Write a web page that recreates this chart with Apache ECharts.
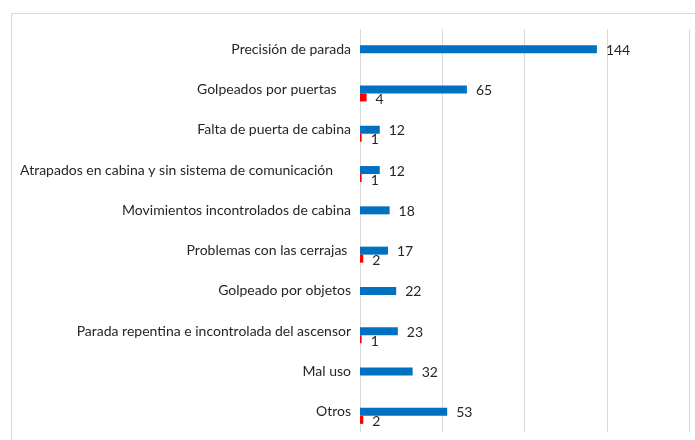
<!DOCTYPE html>
<html>
<head>
<meta charset="utf-8">
<script src="https://cdn.jsdelivr.net/npm/echarts@6/dist/echarts.min.js"></script>
<style>
  html, body { margin: 0; padding: 0; background: #fff; }
  #main { width: 695px; height: 440px; }
</style>
</head>
<body>
<div id="main"></div>
<script>
// categorias (de arriba a abajo)
var categorias = [
  "Precisión de parada",
  "Golpeados por puertas    ",
  "Falta de puerta de cabina",
  "Atrapados en cabina y sin sistema de comunicación     ",
  "Movimientos incontrolados de cabina",
  "Problemas con las cerrajas ",
  "Golpeado por objetos",
  "Parada repentina e incontrolada del ascensor",
  "Mal uso",
  "Otros"
];
var serieAzul = [144, 65, 12, 12, 18, 17, 22, 23, 32, 53];
var serieRoja = [null, 4, 1, 1, null, 2, null, 1, null, 2];
var vacio = [null, null, null, null, null, null, null, null, null, null];
var ticksX = [0, 50, 100, 150, 200];

var myChart = echarts.init(document.getElementById("main"));

var etiqueta = {
  show: true,
  position: "right",
  distance: 9,
  color: "#262626",
  fontFamily: "Lato",
  fontSize: 14
};

myChart.setOption({
  animation: false,
  textStyle: { fontFamily: "Lato" },
  graphic: [
    {
      type: "rect",
      silent: true,
      shape: { x: 11.5, y: 13.5, width: 720, height: 460 },
      style: { fill: "none", stroke: "#d9d9d9", lineWidth: 1 }
    }
  ],
  grid: { left: 360, right: 6, top: 29, bottom: 8 },
  xAxis: {
    type: "value",
    min: ticksX[0],
    max: ticksX[ticksX.length - 1],
    interval: 50,
    axisLabel: { show: false },
    axisLine: { show: false },
    axisTick: { show: false },
    splitLine: { lineStyle: { color: "#d9d9d9", width: 1 } }
  },
  yAxis: {
    type: "category",
    inverse: true,
    data: categorias,
    axisLine: { show: false },
    axisTick: { show: false },
    axisLabel: { color: "#262626", fontFamily: "Lato", fontSize: 14, margin: 9, padding: [2, 0, 0, 0] }
  },
  series: [
    // hueco vacío encima de la barra azul
    { type: "bar", data: vacio, barWidth: 8, barGap: "0%" },
    {
      type: "bar",
      data: serieAzul,
      barWidth: 8,
      barGap: "0%",
      itemStyle: { color: "#0070c0" },
      label: Object.assign({}, etiqueta, { offset: [0, 1] })
    },
    {
      type: "bar",
      data: serieRoja,
      barWidth: 8,
      barGap: "0%",
      itemStyle: { color: "#ff0000" },
      label: Object.assign({}, etiqueta, { offset: [0, 2] })
    }
  ]
});
</script>
</body>
</html>
